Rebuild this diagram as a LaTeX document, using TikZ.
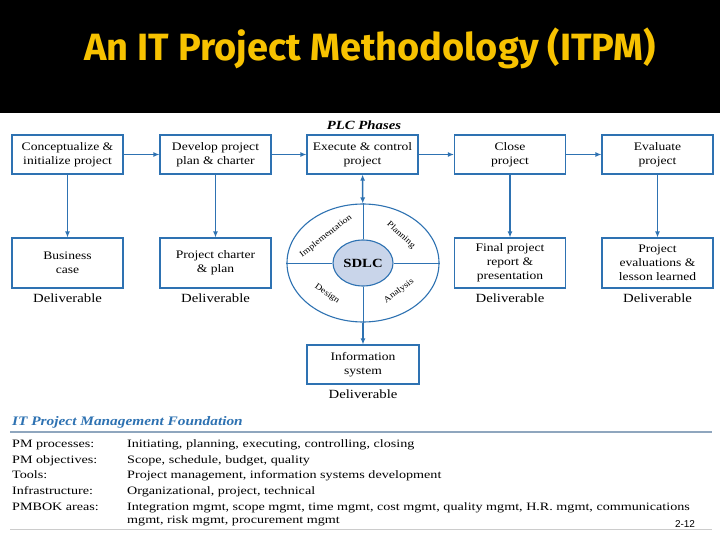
\documentclass[tikz,border=0pt]{standalone}
\usepackage{fontspec}
\setmainfont{Liberation Serif}
\newfontfamily\boxfont[FakeStretch=1.18]{Liberation Serif}
\newfontfamily\rowfont[FakeStretch=1.25]{Liberation Serif}
\newfontfamily\titlefont{Fira Sans}
\newfontfamily\pagefont{Liberation Sans}
\usetikzlibrary{positioning,arrows.meta,shapes.geometric}
\definecolor{plcblue}{HTML}{2E72B2}
\definecolor{ringfill}{HTML}{C9D5EA}
\definecolor{titleyellow}{HTML}{F7C200}
\definecolor{rulegray}{HTML}{8FA6BE}

\begin{document}
\begin{tikzpicture}[x=1pt, y=-1pt, every node/.style={font=\boxfont\fontsize{11.5}{14}\selectfont},
    phase/.style={draw=plcblue, line width=1.1pt, minimum width=111pt, minimum height=39pt, align=center, inner sep=0pt},
    deliv/.style={phase, minimum height=50pt},
    flow/.style={-{Latex[length=6pt,width=5pt]}, plcblue, line width=1.4pt},
    quad/.style={font=\boxfont\fontsize{8.5}{10}\selectfont, inner sep=0pt},
    outlabel/.style={font=\boxfont\fontsize{12.5}{14}\selectfont},
    rowlabel/.style={anchor=base west, inner sep=0pt, font=\rowfont\fontsize{11.3}{13}\selectfont},
    rowtext/.style={anchor=base west, inner sep=0pt, align=left, font=\rowfont\fontsize{11.3}{13}\selectfont}]
      \useasboundingbox (0,0) rectangle (720,540);
      \fill[white] (0,0) rectangle (720,540);
      \fill[black] (0,0) rectangle (720,113);
      \node[text=titleyellow, font=\titlefont\bfseries\fontsize{38}{42}\selectfont] (title) at (370,48) {An IT Project Methodology (ITPM)};

      % PLC phases
      \node[font=\boxfont\bfseries\itshape\fontsize{12.5}{14}\selectfont] (plc) at (364,125) {PLC Phases};
      \node[phase] (concept) at (67.5,154.5) {Conceptualize \&\\initialize project};
      \node[phase] (develop) at (215.5,154.5) {Develop project\\plan \& charter};
      \node[phase] (execute) at (362.5,154.5) {Execute \& control\\project};
      \node[phase] (close) at (510,154.5) {Close\\project};
      \node[phase] (evaluate) at (657.5,154.5) {Evaluate\\project};

      \node[deliv] (bizcase) at (67.5,263) {Business\\case};
      \node[deliv] (charter) at (215.5,263) {Project charter\\\& plan};
      \node[deliv] (final) at (510,263) {Final project\\report \&\\presentation};
      \node[deliv] (lessons) at (657.5,263) {Project\\evaluations \&\\lesson learned};

      \node[outlabel] (d1) at (67.5,298) {Deliverable};
      \node[outlabel] (d2) at (215.5,298) {Deliverable};
      \node[outlabel] (d3) at (510,298) {Deliverable};
      \node[outlabel] (d4) at (657.5,298) {Deliverable};

      % SDLC wheel
      \node[ellipse, draw=plcblue, line width=1.1pt, minimum width=152pt, minimum height=118pt, inner sep=0pt] (ring) at (363,263) {};
      \node[ellipse, draw=plcblue, line width=1.1pt, fill=ringfill, minimum width=60pt, minimum height=46pt, inner sep=0pt,
            font=\boxfont\bfseries\fontsize{12.5}{14}\selectfont] (sdlc) at (363,263) {SDLC};
      \draw[plcblue, line width=0.9pt] (ring.west) -- (sdlc.west);
      \draw[plcblue, line width=0.9pt] (sdlc.east) -- (ring.east);
      \draw[plcblue, line width=0.9pt] (ring.north) -- (sdlc.north);
      \draw[plcblue, line width=0.9pt] (sdlc.south) -- (ring.south);
      \node[quad, rotate=38] (impl) at (326,236) {Implementation};
      \node[quad, rotate=-43] (plan) at (401,235) {Planning};
      \node[quad, rotate=-35] (design) at (327,294) {Design};
      \node[quad, rotate=37] (analysis) at (399,291) {Analysis};

      \node[phase, minimum width=112pt] (info) at (363,364.5) {Information\\system};
      \node[outlabel] (d5) at (363,394) {Deliverable};

      \draw[flow] (concept) -- (develop);
      \draw[flow] (develop) -- (execute);
      \draw[flow] (execute) -- (close);
      \draw[flow] (close) -- (evaluate);
      \draw[flow] (concept) -- (bizcase);
      \draw[flow] (develop) -- (charter);
      \draw[flow] (close) -- (final);
      \draw[flow] (evaluate) -- (lessons);
      \draw[flow, {Latex[length=6pt,width=5pt]}-{Latex[length=6pt,width=5pt]}] (execute) -- (ring);
      \draw[flow] (ring) -- (info);

      % foundation
      \node[anchor=base west, inner sep=0pt, text=plcblue, font=\boxfont\bfseries\itshape\fontsize{13}{15}\selectfont] (found) at (12,425) {IT Project Management Foundation};
      \coordinate (ruleL) at (10,432);
      \coordinate (ruleR) at (712,432);
      \draw[rulegray, line width=1.5pt] (ruleL) -- (ruleR);
      \node[rowlabel] (l1) at (12,447) {PM processes:};
      \node[rowtext] (t1) at (127,447) {Initiating, planning, executing, controlling, closing};
      \node[rowlabel] (l2) at (12,463) {PM objectives:};
      \node[rowtext] (t2) at (127,463) {Scope, schedule, budget, quality};
      \node[rowlabel] (l3) at (12,478.5) {Tools:};
      \node[rowtext] (t3) at (127,478.5) {Project management, information systems development};
      \node[rowlabel] (l4) at (12,494) {Infrastructure:};
      \node[rowtext] (t4) at (127,494) {Organizational, project, technical};
      \node[rowlabel] (l5) at (12,510) {PMBOK areas:};
      \node[rowtext] (t5) at (127,523) {Integration mgmt, scope mgmt, time mgmt, cost mgmt, quality mgmt, H.R. mgmt, communications\\mgmt, risk mgmt, procurement mgmt};
      \coordinate (footL) at (10,529);
      \coordinate (footR) at (712,529);
      \draw[black!20, line width=0.8pt] (footL) -- (footR);
      \node[font=\pagefont\fontsize{10}{12}\selectfont] (pagenum) at (685,524) {2-12};
\end{tikzpicture}
\end{document}
